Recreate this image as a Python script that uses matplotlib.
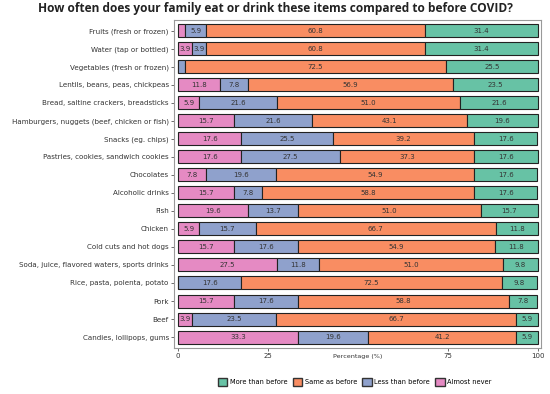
import numpy as np
import matplotlib.pyplot as plt
from matplotlib.patches import Patch

items = ['Fruits (fresh or frozen)', 'Water (tap or bottled)', 'Vegetables (fresh or frozen)',
         'Lentils, beans, peas, chickpeas', 'Bread, saltine crackers, breadsticks',
         'Hamburgers, nuggets (beef, chicken or fish)', 'Snacks (eg. chips)',
         'Pastries, cookies, sandwich cookies', 'Chocolates', 'Alcoholic drinks', 'Fish',
         'Chicken', 'Cold cuts and hot dogs', 'Soda, juice, flavored waters, sports drinks',
         'Rice, pasta, polenta, potato', 'Pork', 'Beef', 'Candies, lollipops, gums']
almost_never = [2.0, 3.9, 0, 11.8, 5.9, 15.7, 17.6, 17.6, 7.8, 15.7, 19.6, 5.9, 15.7, 27.5, 0, 15.7, 3.9, 33.3]
less_than = [5.9, 3.9, 2.0, 7.8, 21.6, 21.6, 25.5, 27.5, 19.6, 7.8, 13.7, 15.7, 17.6, 11.8, 17.6, 17.6, 23.5, 19.6]
same_as = [60.8, 60.8, 72.5, 56.9, 51.0, 43.1, 39.2, 37.3, 54.9, 58.8, 51.0, 66.7, 54.9, 51.0, 72.5, 58.8, 66.7, 41.2]
more_than = [31.4, 31.4, 25.5, 23.5, 21.6, 19.6, 17.6, 17.6, 17.6, 17.6, 15.7, 11.8, 11.8, 9.8, 9.8, 7.8, 5.9, 5.9]

series = [('Almost never', almost_never, '#e58ac3'),
          ('Less than before', less_than, '#8fa1cc'),
          ('Same as before', same_as, '#f98d62'),
          ('More than before', more_than, '#67c2a5')]

fig = plt.figure(figsize=(5.5, 3.94), dpi=100)
ax = fig.add_axes([0.317, 0.117, 0.667, 0.833])

y = np.arange(len(items))
left = np.zeros(len(items))
for name, vals, col in series:
    vals = np.array(vals)
    ax.barh(y, vals, left=left, height=0.72, color=col, edgecolor='#222222', linewidth=0.8)
    for yi, l, v in zip(y, left, vals):
        if v >= 3.5:
            ax.text(l + v / 2, yi, '%.1f' % v, ha='center', va='center', fontsize=5, color='#333333')
    left += vals

ax.set_ylim(len(items) - 0.4, -0.6)
ax.set_xlim(-1, 101)
ax.set_yticks(y)
ax.set_yticklabels(items, fontsize=5.1, color='#333333')
ax.set_xticks([0, 25, 75, 100])
ax.set_xticklabels(['0', '25', '75', '100'], fontsize=5, color='#333333')
ax.tick_params(length=2, width=0.6, color='#555555', pad=2)
ax.text(50, -0.02, 'Percentage (%)', transform=ax.get_xaxis_transform(), ha='center', va='top',
        fontsize=4.6, color='#333333')
for s in ax.spines.values():
    s.set_color('#999999')
    s.set_linewidth(0.8)

fig.suptitle('How often does your family eat or drink these items compared to before COVID?',
             x=0.5, y=0.995, fontsize=8.6, fontweight='bold', family='Open Sans', color='#222222')

handles = [Patch(facecolor=c, edgecolor='#333333', label=n) for n, v, c in reversed(series)]
fig.legend(handles=handles, loc='center', bbox_to_anchor=(0.645, 0.03), ncol=4, frameon=False,
           fontsize=4.8, handlelength=1.4, handleheight=1.5, columnspacing=0.8, handletextpad=0.4)

fig.savefig('out.png', dpi=100)
